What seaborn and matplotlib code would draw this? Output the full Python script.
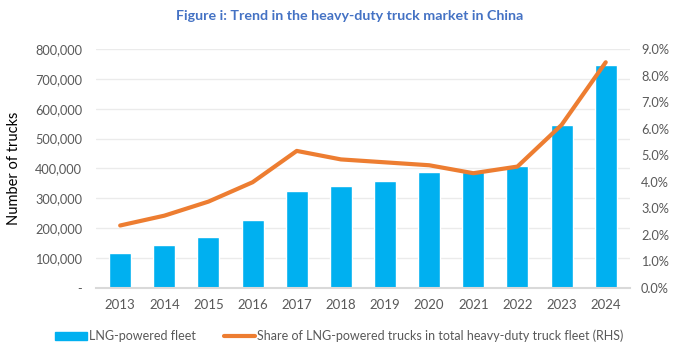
import numpy as np
import seaborn as sns
import matplotlib.pyplot as plt
from matplotlib.ticker import FuncFormatter, MultipleLocator
from matplotlib.patches import Patch
from matplotlib.lines import Line2D

years = ["2013", "2014", "2015", "2016", "2017", "2018",
         "2019", "2020", "2021", "2022", "2023", "2024"]
fleet = [118000, 145000, 172000, 226000, 325000, 342000,
         359000, 387000, 389000, 408000, 544000, 745000]
share = [2.35, 2.72, 3.25, 3.98, 5.16, 4.84,
         4.73, 4.62, 4.32, 4.57, 6.14, 8.50]

sns.set_style("white")
plt.rcParams['font.family'] = ['Lato', 'DejaVu Sans']

grey = "#595959"
fig = plt.figure(figsize=(7, 3.63), dpi=100)
ax = fig.add_axes([0.137, 0.207, 0.763, 0.658])

sns.barplot(x=years, y=fleet, color="#00B0F0", width=0.5, saturation=1, ax=ax, zorder=2)
ax.set_ylim(0, 800000)
ax.yaxis.set_major_locator(MultipleLocator(100000))
ax.yaxis.set_major_formatter(FuncFormatter(lambda v, p: "-" if v == 0 else f"{int(v):,}"))
ax.grid(axis="y", color="#EBEBEB", linewidth=1, zorder=0)
ax.set_axisbelow(True)
for s in ["top", "right", "left"]:
    ax.spines[s].set_visible(False)
ax.spines["bottom"].set_color("#D9D9D9")
ax.spines["bottom"].set_linewidth(1.5)
ax.tick_params(axis="y", length=0, labelsize=9.2, colors=grey, pad=10)
ax.tick_params(axis="x", length=0, labelsize=9.5, colors=grey, pad=8)
ax.set_ylabel("Number of trucks", fontsize=10.5, color="black", labelpad=10)
ax.set_xlim(-0.55, 11.55)

ax2 = ax.twinx()
sns.lineplot(x=np.arange(len(years)), y=share, color="#ED7D31", linewidth=3, ax=ax2)
ax2.set_ylim(0, 9)
ax2.yaxis.set_major_locator(MultipleLocator(1))
ax2.yaxis.set_major_formatter(FuncFormatter(lambda v, p: f"{v:.1f}%"))
for s in ["top", "right", "left", "bottom"]:
    ax2.spines[s].set_visible(False)
ax2.tick_params(axis="y", length=0, labelsize=9.2, colors=grey, pad=8)
ax2.set_xlim(-0.55, 11.55)

fig.text(0.5, 0.955, "Figure i: Trend in the heavy-duty truck market in China",
         ha="center", va="center", fontsize=10.3, fontweight="bold", color="#4472C4")

handles = [Patch(color="#00B0F0"),
           Line2D([0], [0], color="#ED7D31", linewidth=3)]
labels = ["LNG-powered fleet",
          "Share of LNG-powered trucks in total heavy-duty truck fleet (RHS)"]
fig.legend(handles, labels, loc="center", bbox_to_anchor=(0.485, 0.074), ncol=2,
           frameon=False, fontsize=9, labelcolor=grey, handlelength=2.5,
           handletextpad=0.2, columnspacing=2.2)

fig.savefig("out.png", dpi=100)
